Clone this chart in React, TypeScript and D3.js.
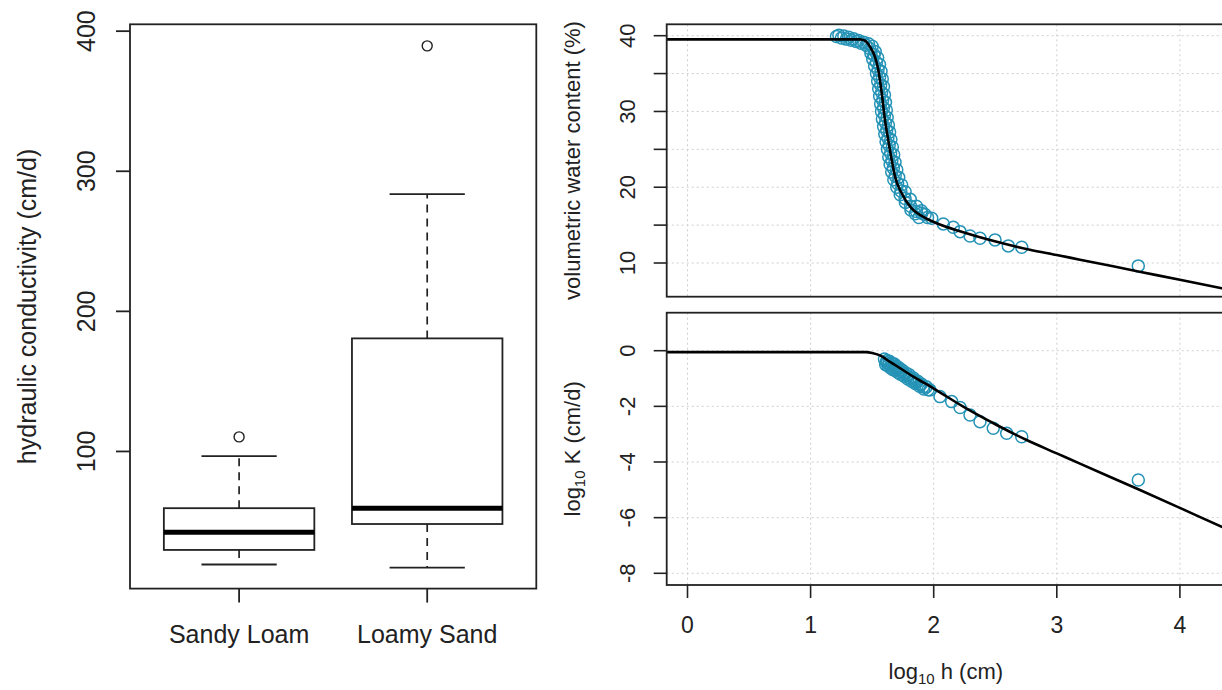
import React from 'react';
import * as d3 from 'd3';

// ---------- Left panel: boxplot of hydraulic conductivity ----------
const categories = ['Sandy Loam', 'Loamy Sand'];
const whiskerLow = [19.3, 17.1];
const quart1 = [29.7, 48.2];
const medians = [42.3, 59.5];
const quart3 = [59.5, 180.7];
const whiskerHigh = [96.6, 283.7];
const outliers = [[110.4], [389.5]];
const kTicks = [100, 200, 300, 400];

// ---------- Right panels ----------
const hTicks = [0, 1, 2, 3, 4];
const thetaTicks = [10, 15, 20, 25, 30, 35, 40];
const thetaLabels = [10, 20, 30, 40];
const logKTicks = [-8, -6, -4, -2, 0];

// fitted retention curve: [log10 h, theta %]
const retentionCurve: [number, number][] = [
  [-0.3, 39.52], [1.4, 39.52], [1.441, 39.34], [1.482, 38.55], [1.523, 37.2], [1.55, 35.5],
  [1.578, 32.4], [1.604, 28.9], [1.631, 26.2], [1.659, 23.6], [1.686, 21.4], [1.74, 19.2],
  [1.821, 17.2], [1.916, 16.1], [2.024, 15.25], [2.24, 14.06], [2.512, 12.8], [2.782, 11.75],
  [3.0, 11.06], [3.188, 10.44], [3.662, 8.89], [4.0, 7.78], [4.34, 6.67], [4.5, 6.15],
];

// measured retention points: [log10 h, theta %]
const retentionPoints: [number, number][] = [
  [1.21, 39.9], [1.23, 40.05], [1.25, 39.7], [1.27, 39.95], [1.29, 39.55], [1.31, 39.8],
  [1.33, 39.4], [1.35, 39.6], [1.37, 39.25], [1.39, 39.35], [1.41, 39.0], [1.43, 39.15],
  [1.45, 38.75], [1.47, 38.95], [1.48, 38.3], [1.5, 38.6],
  [1.49, 37.7], [1.525, 37.9], [1.505, 36.9], [1.545, 37.1], [1.52, 36.0], [1.56, 36.2],
  [1.535, 35.0], [1.572, 35.3], [1.545, 34.0], [1.582, 34.3], [1.553, 33.0], [1.592, 33.3],
  [1.561, 32.0], [1.6, 32.2], [1.569, 31.0], [1.608, 31.2], [1.576, 30.0], [1.615, 30.2],
  [1.583, 29.0], [1.622, 29.2], [1.593, 28.0], [1.632, 28.2], [1.603, 27.0], [1.642, 27.3],
  [1.613, 26.0], [1.652, 26.3], [1.624, 25.0], [1.664, 25.3], [1.635, 24.0], [1.675, 24.3],
  [1.646, 23.0], [1.686, 23.3], [1.659, 22.0], [1.7, 22.3], [1.676, 21.0], [1.716, 21.3],
  [1.7, 20.0], [1.74, 20.3], [1.728, 19.0], [1.768, 19.4], [1.77, 18.0], [1.81, 18.4],
  [1.815, 17.0], [1.86, 17.5], [1.85, 16.5], [1.9, 16.9], [1.88, 16.0], [1.93, 16.4],
  [1.515, 37.5], [1.535, 36.5], [1.548, 35.5], [1.56, 34.5], [1.569, 33.5], [1.577, 32.5],
  [1.585, 31.5], [1.592, 30.5], [1.6, 29.5], [1.608, 28.5], [1.618, 27.5], [1.628, 26.5],
  [1.638, 25.5], [1.65, 24.5], [1.66, 23.5], [1.672, 22.5], [1.687, 21.5], [1.707, 20.5],
  [1.733, 19.5], [1.767, 18.5], [1.812, 17.5], [1.86, 16.8], [1.95, 16.0],
  [1.902, 16.57], [1.984, 15.9], [2.078, 15.16], [2.159, 14.72], [2.214, 14.14],
  [2.295, 13.57], [2.376, 13.27], [2.498, 13.05], [2.606, 12.26], [2.715, 12.08],
  [3.662, 9.62],
];

// fitted conductivity curve: [log10 h, log10 K]
const conductivityCurve: [number, number][] = [
  [-0.3, -0.05], [1.45, -0.05], [1.5, -0.08], [1.564, -0.17], [1.645, -0.4], [1.699, -0.55],
  [1.834, -0.93], [1.997, -1.35], [2.24, -2.01], [2.512, -2.67], [2.755, -3.21],
  [3.0, -3.69], [3.188, -4.06], [3.662, -4.98], [4.0, -5.65], [4.34, -6.33], [4.5, -6.64],
];

// measured conductivity points: [log10 h, log10 K]
const conductivityPoints: [number, number][] = [
  [1.6, -0.3], [1.61, -0.5], [1.62, -0.35], [1.63, -0.55], [1.64, -0.38], [1.65, -0.62],
  [1.66, -0.45], [1.67, -0.68], [1.68, -0.48], [1.69, -0.72], [1.7, -0.56], [1.71, -0.78],
  [1.72, -0.62], [1.73, -0.85], [1.745, -0.7], [1.76, -0.92], [1.775, -0.8], [1.79, -1.02],
  [1.8, -0.86], [1.82, -1.1], [1.835, -0.98], [1.85, -1.18], [1.87, -1.1], [1.885, -1.28],
  [1.9, -1.2], [1.92, -1.38], [1.94, -1.3],
  [1.615, -0.42], [1.635, -0.47], [1.655, -0.53], [1.675, -0.58], [1.695, -0.64],
  [1.715, -0.7], [1.735, -0.76], [1.755, -0.82], [1.78, -0.9], [1.81, -0.98],
  [1.84, -1.06], [1.86, -1.14], [1.89, -1.22], [1.915, -1.3], [1.955, -1.4],
  [1.97, -1.41], [2.051, -1.65], [2.146, -1.83], [2.214, -2.04], [2.295, -2.31],
  [2.376, -2.55], [2.484, -2.79], [2.593, -2.97], [2.715, -3.09],
  [3.662, -4.65],
];

const FONT = '"Liberation Sans", Arial, Helvetica, sans-serif';
const INK = '#222';
const PT = '#2593b6';
const GRID = '#cfcfcf';

export default function App() {
  // left panel scales
  const bx = d3.scaleLinear().domain([0.42, 2.58]).range([130, 536.3]);
  const by = d3.scaleLinear().domain([2.1, 404.9]).range([588.6, 24.3]);
  const L = { x0: 130, x1: 536.3, y0: 24.3, y1: 588.6 };

  // right panel scales
  const hx = d3.scaleLinear().domain([0, 4]).range([687.5, 1179.9]);
  const R = { x0: 666.7, x1: 1225 };
  const top = { y0: 24.3, y1: 296.7 };
  const bot = { y0: 312.7, y1: 585 };
  const ty = d3.scaleLinear().domain([10, 40]).range([263, 35.7]);
  const ky = d3.scaleLinear().domain([-8, 0]).range([573.3, 350.7]);

  const thetaLine = d3.line<[number, number]>()
    .x((d) => hx(d[0])).y((d) => ty(d[1])).curve(d3.curveMonotoneX);
  const kLine = d3.line<[number, number]>()
    .x((d) => hx(d[0])).y((d) => ky(d[1])).curve(d3.curveMonotoneX);

  const halfBox = 0.4;
  const halfCap = 0.2;

  return (
    <svg width={1222} height={690} style={{ position: 'absolute', left: 0, top: 0, background: '#fff' }}
      fontFamily={FONT}>
      <rect x={0} y={0} width={1222} height={690} fill="#fff" />
      <defs>
        <clipPath id="clipTop"><rect x={R.x0} y={top.y0} width={R.x1 - R.x0} height={top.y1 - top.y0} /></clipPath>
        <clipPath id="clipBot"><rect x={R.x0} y={bot.y0} width={R.x1 - R.x0} height={bot.y1 - bot.y0} /></clipPath>
      </defs>

      {/* ---------- LEFT BOXPLOT ---------- */}
      {categories.map((c, i) => {
        const cx = bx(i + 1);
        const xl = bx(i + 1 - halfBox);
        const xr = bx(i + 1 + halfBox);
        const cl = bx(i + 1 - halfCap);
        const cr = bx(i + 1 + halfCap);
        return (
          <g key={c}>
            <line x1={cx} x2={cx} y1={by(quart3[i])} y2={by(whiskerHigh[i])} stroke={INK} strokeWidth={1.7} strokeDasharray="8,6" />
            <line x1={cx} x2={cx} y1={by(quart1[i])} y2={by(whiskerLow[i])} stroke={INK} strokeWidth={1.7} strokeDasharray="8,6" />
            <line x1={cl} x2={cr} y1={by(whiskerHigh[i])} y2={by(whiskerHigh[i])} stroke={INK} strokeWidth={1.8} />
            <line x1={cl} x2={cr} y1={by(whiskerLow[i])} y2={by(whiskerLow[i])} stroke={INK} strokeWidth={1.8} />
            <rect x={xl} y={by(quart3[i])} width={xr - xl} height={by(quart1[i]) - by(quart3[i])} fill="none" stroke={INK} strokeWidth={1.8} />
            <line x1={xl} x2={xr} y1={by(medians[i])} y2={by(medians[i])} stroke="#000" strokeWidth={5} />
            {outliers[i].map((o, j) => (
              <circle key={j} cx={cx} cy={by(o)} r={5} fill="none" stroke={INK} strokeWidth={1.4} />
            ))}
            <line x1={cx} x2={cx} y1={L.y1} y2={L.y1 + 14} stroke={INK} strokeWidth={1.8} />
            <text x={cx} y={643} textAnchor="middle" fontSize={25} fill={INK}>{c}</text>
          </g>
        );
      })}
      <rect x={L.x0} y={L.y0} width={L.x1 - L.x0} height={L.y1 - L.y0} fill="none" stroke={INK} strokeWidth={1.8} />
      {kTicks.map((t) => (
        <g key={t}>
          <line x1={L.x0 - 14} x2={L.x0} y1={by(t)} y2={by(t)} stroke={INK} strokeWidth={1.8} />
          <text transform={`translate(95,${by(t)}) rotate(-90)`} textAnchor="middle" fontSize={25} fill={INK}>{t}</text>
        </g>
      ))}
      <text transform={`translate(36,${(L.y0 + L.y1) / 2}) rotate(-90)`} textAnchor="middle" fontSize={25} fill={INK}>
        hydraulic conductivity (cm/d)
      </text>

      {/* ---------- RIGHT TOP: retention ---------- */}
      <g clipPath="url(#clipTop)">
        {hTicks.map((t) => (
          <line key={'tv' + t} x1={hx(t)} x2={hx(t)} y1={top.y0} y2={top.y1} stroke={GRID} strokeWidth={1} strokeDasharray="2,3" />
        ))}
        {thetaTicks.map((t) => (
          <line key={'th' + t} x1={R.x0} x2={R.x1} y1={ty(t)} y2={ty(t)} stroke={GRID} strokeWidth={1} strokeDasharray="2,3" />
        ))}
        {retentionPoints.map((p, i) => (
          <circle key={i} cx={hx(p[0])} cy={ty(p[1])} r={6} fill="none" stroke={PT} strokeWidth={1.5} />
        ))}
        <path d={thetaLine(retentionCurve) || ''} fill="none" stroke="#000" strokeWidth={2.6} />
      </g>
      <rect x={R.x0} y={top.y0} width={R.x1 - R.x0} height={top.y1 - top.y0} fill="none" stroke={INK} strokeWidth={1.8} />
      {thetaTicks.map((t) => (
        <line key={'tt' + t} x1={R.x0 - 13} x2={R.x0} y1={ty(t)} y2={ty(t)} stroke={INK} strokeWidth={1.6} />
      ))}
      {thetaLabels.map((t) => (
        <text key={'tl' + t} transform={`translate(635,${ty(t)}) rotate(-90)`} textAnchor="middle" fontSize={22} fill={INK}>{t}</text>
      ))}
      <text transform={`translate(580,${(top.y0 + top.y1) / 2}) rotate(-90)`} textAnchor="middle" fontSize={22} fill={INK}>
        volumetric water content (%)
      </text>

      {/* ---------- RIGHT BOTTOM: conductivity ---------- */}
      <g clipPath="url(#clipBot)">
        {hTicks.map((t) => (
          <line key={'bv' + t} x1={hx(t)} x2={hx(t)} y1={bot.y0} y2={bot.y1} stroke={GRID} strokeWidth={1} strokeDasharray="2,3" />
        ))}
        {logKTicks.map((t) => (
          <line key={'bh' + t} x1={R.x0} x2={R.x1} y1={ky(t)} y2={ky(t)} stroke={GRID} strokeWidth={1} strokeDasharray="2,3" />
        ))}
        {conductivityPoints.map((p, i) => (
          <circle key={i} cx={hx(p[0])} cy={ky(p[1])} r={6} fill="none" stroke={PT} strokeWidth={1.5} />
        ))}
        <path d={kLine(conductivityCurve) || ''} fill="none" stroke="#000" strokeWidth={2.6} />
      </g>
      <rect x={R.x0} y={bot.y0} width={R.x1 - R.x0} height={bot.y1 - bot.y0} fill="none" stroke={INK} strokeWidth={1.8} />
      {logKTicks.map((t) => (
        <g key={'bt' + t}>
          <line x1={R.x0 - 13} x2={R.x0} y1={ky(t)} y2={ky(t)} stroke={INK} strokeWidth={1.6} />
          <text transform={`translate(635,${ky(t)}) rotate(-90)`} textAnchor="middle" fontSize={22} fill={INK}>{t}</text>
        </g>
      ))}
      {hTicks.map((t) => (
        <g key={'hx' + t}>
          <line x1={hx(t)} x2={hx(t)} y1={bot.y1} y2={bot.y1 + 13} stroke={INK} strokeWidth={1.6} />
          <text x={hx(t)} y={633} textAnchor="middle" fontSize={23} fill={INK}>{t}</text>
        </g>
      ))}
      <text transform={`translate(580,${(bot.y0 + bot.y1) / 2}) rotate(-90)`} textAnchor="middle" fontSize={22} fill={INK}>
        <tspan>log</tspan><tspan fontSize={15} dy={5}>10</tspan><tspan dy={-5}> K (cm/d)</tspan>
      </text>
      <text x={(R.x0 + R.x1) / 2} y={679} textAnchor="middle" fontSize={22} fill={INK}>
        <tspan>log</tspan><tspan fontSize={15} dy={5}>10</tspan><tspan dy={-5}> h (cm)</tspan>
      </text>
    </svg>
  );
}
